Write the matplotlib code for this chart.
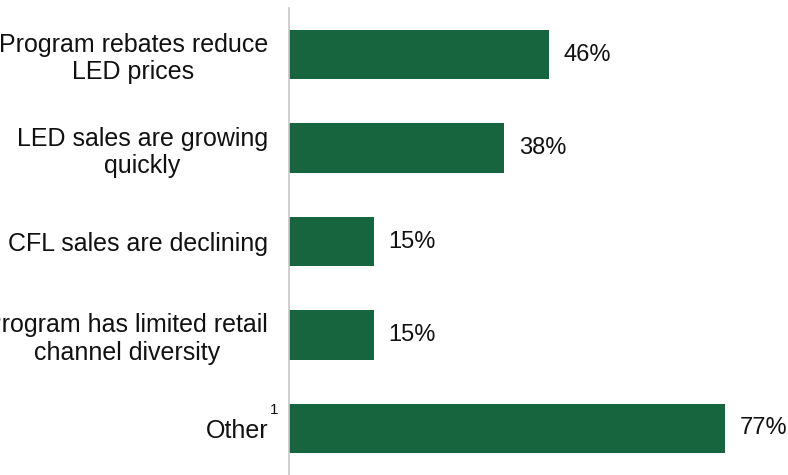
import matplotlib.pyplot as plt

plt.rcParams['font.family'] = ['Liberation Sans', 'DejaVu Sans']

categories = [
    "Program rebates reduce\nLED prices",
    "LED sales are growing\nquickly",
    "CFL sales are declining",
    "Program has limited retail\nchannel diversity",
    "Other",
]
values = [46, 38, 15, 15, 77]
value_labels = ["46%", "38%", "15%", "15%", "77%"]

bar_color = "#17653F"

fig = plt.figure(figsize=(7.88, 4.75), dpi=100)
ax = fig.add_axes([289 / 788, 0.0, 1 - 289 / 788, 467 / 475])

pos = list(range(len(categories)))
ax.barh(pos, values, height=0.53, color=bar_color)
ax.set_ylim(4.5, -0.5)
ax.set_xlim(0, 88.2)

for p, v, lab in zip(pos, values, value_labels):
    ax.text(v + 2.6, p, lab, va="center", ha="left", fontsize=17, color="#111111")

ax.set_yticks(pos)
ax.set_yticklabels(categories, fontsize=18, color="#111111")
for t in ax.get_yticklabels():
    t.set_multialignment("center")
    t.set_linespacing(1.17)
ax.tick_params(axis="y", length=0, pad=15)
ax.set_xticks([])

# footnote marker on "Other"
ax.text(-2.6, 3.8, "1", fontsize=11, ha="center", va="center", color="#111111")

for s in ["top", "right", "bottom"]:
    ax.spines[s].set_visible(False)
ax.spines["left"].set_color("#c8c8c8")
ax.spines["left"].set_linewidth(1.2)

fig.savefig("out.png", dpi=100)
